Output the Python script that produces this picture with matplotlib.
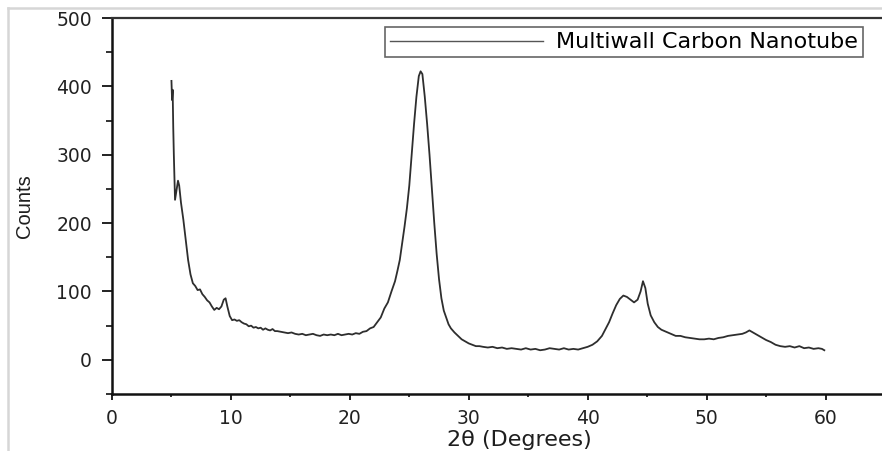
import matplotlib
matplotlib.use("Agg")
import matplotlib.pyplot as plt
from matplotlib.lines import Line2D
from matplotlib.ticker import MultipleLocator

# ---- data ----
two_theta = [
    5.00, 5.05, 5.10, 5.15, 5.20, 5.30, 5.40, 5.55, 5.65, 5.80,
    6.00, 6.20, 6.40, 6.60, 6.80, 7.00, 7.20, 7.40, 7.60, 7.80,
    8.00, 8.20, 8.40, 8.60, 8.80, 9.00, 9.20, 9.40, 9.55, 9.70,
    9.90, 10.10, 10.30, 10.50, 10.70, 10.90, 11.10, 11.30, 11.50, 11.70,
    11.90, 12.10, 12.30, 12.50, 12.70, 12.90, 13.10, 13.30, 13.50, 13.70,
    13.90, 14.20, 14.50, 14.80, 15.10, 15.40, 15.70, 16.00, 16.30, 16.60,
    16.90, 17.20, 17.50, 17.80, 18.10, 18.40, 18.70, 19.00, 19.30, 19.60,
    19.90, 20.20, 20.50, 20.80, 21.10, 21.40, 21.70, 22.00, 22.30, 22.60,
    22.90, 23.20, 23.50, 23.80, 24.00, 24.20, 24.40, 24.60, 24.80, 25.00,
    25.20, 25.40, 25.60, 25.80, 25.95, 26.10, 26.30, 26.50, 26.70, 26.90,
    27.10, 27.30, 27.50, 27.70, 27.90, 28.10, 28.30, 28.50, 28.80, 29.10,
    29.40, 29.70, 30.00, 30.30, 30.60, 30.90, 31.20, 31.60, 32.00, 32.40,
    32.80, 33.20, 33.60, 34.00, 34.40, 34.80, 35.20, 35.60, 36.00, 36.40,
    36.80, 37.20, 37.60, 38.00, 38.40, 38.80, 39.20, 39.60, 40.00, 40.40,
    40.80, 41.20, 41.50, 41.80, 42.10, 42.40, 42.70, 43.00, 43.30, 43.60,
    43.90, 44.20, 44.45, 44.65, 44.85, 45.05, 45.30, 45.60, 45.90, 46.20,
    46.60, 47.00, 47.40, 47.80, 48.20, 48.60, 49.00, 49.40, 49.80, 50.20,
    50.60, 51.00, 51.40, 51.80, 52.20, 52.60, 53.00, 53.30, 53.60, 53.90,
    54.20, 54.60, 55.00, 55.40, 55.80, 56.20, 56.60, 57.00, 57.40, 57.80,
    58.20, 58.60, 59.00, 59.40, 59.70, 59.90,
]
counts = [
    408, 380, 395, 340, 300, 234, 245, 262, 255, 230,
    205, 175, 146, 125, 112, 108, 102, 103, 96, 92,
    87, 84, 78, 73, 76, 74, 78, 88, 90, 78,
    64, 58, 59, 57, 58, 55, 53, 52, 49, 50,
    47, 48, 46, 47, 44, 46, 44, 43, 45, 42,
    42, 41, 40, 39, 40, 38, 37, 38, 36, 37,
    38, 36, 35, 37, 36, 37, 36, 38, 36, 37,
    38, 37, 39, 38, 41, 42, 46, 48, 55, 62,
    75, 84, 100, 115, 130, 146, 170, 195, 222, 255,
    300, 345, 385, 415, 422, 418, 385, 345, 300, 250,
    200, 155, 118, 90, 72, 62, 52, 46, 40, 35,
    30, 27, 24, 22, 20, 20, 19, 18, 19, 17,
    18, 16, 17, 16, 15, 17, 15, 16, 14, 15,
    17, 16, 15, 17, 15, 16, 15, 17, 19, 22,
    27, 35, 45, 55, 68, 80, 89, 94, 92, 88,
    84, 88, 100, 115, 105, 82, 65, 55, 48, 44,
    41, 38, 35, 35, 33, 32, 31, 30, 30, 31,
    30, 32, 33, 35, 36, 37, 38, 40, 43, 40,
    37, 33, 29, 26, 22, 20, 19, 20, 18, 20,
    17, 18, 16, 17, 16, 14,
]
series_label = "Multiwall Carbon Nanotube"
x_ticks = [0, 10, 20, 30, 40, 50, 60]
y_ticks = [0, 100, 200, 300, 400, 500]

# ---- figure ----
W, H = 882, 451
fig = plt.figure(figsize=(W / 100, H / 100), dpi=100)
ax = fig.add_axes([112 / W, 1 - 394 / H, 1 - 112 / W, (394 - 18) / H])

ax.plot(two_theta, counts, color="#2e2e2e", lw=1.3, label=series_label)

ax.set_xlim(0, 64.75)
ax.set_ylim(-50, 500)
ax.set_xticks(x_ticks)
ax.set_yticks(y_ticks)
ax.xaxis.set_minor_locator(MultipleLocator(5))
ax.yaxis.set_minor_locator(MultipleLocator(50))

for lab in ax.get_xticklabels() + ax.get_yticklabels():
    lab.set_fontfamily("DejaVu Sans")
    lab.set_fontsize(13.5)
    lab.set_color("#1e1e1e")

ax.tick_params(axis="y", which="major", direction="out", length=7.5, width=1.4, pad=7, colors="#222222")
ax.tick_params(axis="y", which="minor", direction="out", length=4.2, width=1.3, colors="#222222")
ax.tick_params(axis="x", which="major", direction="out", length=4.5, width=1.4, pad=6, colors="#222222")
ax.tick_params(axis="x", which="minor", direction="out", length=2.5, width=1.3, colors="#222222")
ax.tick_params(top=False, right=False)

for side in ("left", "bottom"):
    ax.spines[side].set_linewidth(1.8)
    ax.spines[side].set_color("#111111")
ax.spines["top"].set_linewidth(1.6)
ax.spines["top"].set_color("#333333")
ax.spines["right"].set_visible(False)

ax.set_xlabel("2θ (Degrees)", family="DejaVu Sans", fontsize=16, color="#1e1e1e",
              ha="center", va="top")
ax.xaxis.set_label_coords(519 / W, 1 - 430 / H, transform=fig.transFigure)
ax.set_ylabel("Counts", family="Liberation Sans", fontsize=14.5, color="#1e1e1e")
ax.yaxis.set_label_coords(34 / W, 1 - 206 / H, transform=fig.transFigure)

leg = ax.legend(loc="upper right", bbox_to_anchor=(863 / W, 1 - 27.5 / H),
                bbox_transform=fig.transFigure, borderaxespad=0,
                prop=dict(family="DejaVu Sans", size=16), frameon=True,
                fancybox=False, shadow=False, framealpha=1,
                handlelength=6.9, handletextpad=0.6, borderpad=0.22)
leg.get_frame().set_edgecolor("#666666")
leg.get_frame().set_linewidth(1.2)
leg.get_lines()[0].set_linewidth(1.0)
leg.get_lines()[0].set_color("#555555")

# light gray screenshot frame
fig.add_artist(Line2D([8 / W, 1], [1 - 8 / H, 1 - 8 / H], transform=fig.transFigure,
                      color="#d6d6d6", lw=1.8))
fig.add_artist(Line2D([8 / W, 8 / W], [0, 1 - 8 / H], transform=fig.transFigure,
                      color="#d6d6d6", lw=1.8))

fig.savefig("out.png", dpi=100)
